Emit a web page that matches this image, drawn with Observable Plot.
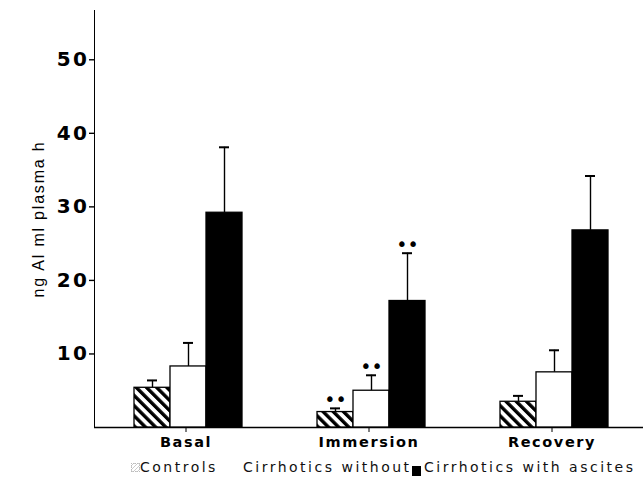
<!DOCTYPE html>
<html>
<head>
<meta charset="utf-8">
<script src="https://cdn.jsdelivr.net/npm/d3@7"></script>
<script src="https://cdn.jsdelivr.net/npm/@observablehq/plot@0.6"></script>
<style>
  html, body { margin: 0; padding: 0; background: #fff; }
  #chart svg { display: block; font-family: "DejaVu Sans", sans-serif; }
  #chart g[aria-label="y-axis tick label"] text { font-size: 20px; font-weight: bold; letter-spacing: 2.5px; fill: #000; }
  #chart g[aria-label="y-axis label"] text { font-size: 16px; font-weight: normal; letter-spacing: 1.8px; fill: #000; font-family: "Liberation Sans", sans-serif; }
  #chart g[aria-label="fx-axis tick label"] text { font-size: 14.5px; font-weight: bold; letter-spacing: 1.6px; fill: #000; }
  #chart g[aria-label="y-axis tick"] path, #chart g[aria-label="rule"] line { stroke-width: 1.4px; }
  #legend { position: relative; height: 24px; font-family: "DejaVu Sans", sans-serif; font-size: 14px; letter-spacing: 2.5px; color: #111; white-space: nowrap; }
  #legend span { position: absolute; top: 5px; line-height: 18px; }
  .sw { display: inline-block; }
</style>
</head>
<body>
<svg width="0" height="0" style="position:absolute">
  <defs>
    <pattern id="hatch" patternUnits="userSpaceOnUse" width="7.2" height="7.2" patternTransform="rotate(-45)">
      <rect x="0" y="0" width="7.2" height="7.2" fill="#fff"></rect>
      <rect x="0" y="0" width="3.4" height="7.2" fill="#000"></rect>
    </pattern>
  </defs>
</svg>
<div id="chart"></div>
<div id="legend"></div>
<script>
// ---- data ----
const groups = ["Basal", "Immersion", "Recovery"];
const series = ["Controls", "Cirrhotics without", "Cirrhotics with ascites"];
const controls = [5.4, 2.1, 3.5];
const controlsErr = [1.0, 0.5, 0.8];
const without = [8.3, 5.0, 7.5];
const withoutErr = [3.2, 2.1, 3.0];
const ascites = [29.2, 17.2, 26.8];
const ascitesErr = [8.9, 6.5, 7.4];
const significant = [[false, false, false], [true, true, true], [false, false, false]];
const yTicks = [10, 20, 30, 40, 50];
const yLabel = "ng Al ml plasma h";

const values = [controls, without, ascites];
const errors = [controlsErr, withoutErr, ascitesErr];
const rows = [];
groups.forEach((g, gi) => {
  series.forEach((s, si) => {
    rows.push({group: g, series: s, value: values[si][gi], upper: values[si][gi] + errors[si][gi], sig: significant[gi][si]});
  });
});

const chart = Plot.plot({
  width: 644,
  height: 453,
  marginTop: 10,
  marginBottom: 26,
  marginLeft: 93,
  marginRight: 0,
  fx: {domain: groups, padding: 0, label: null, tickSize: 5, tickPadding: 4},
  x: {domain: series, paddingInner: 0, paddingOuter: 1, align: 0.53, axis: null},
  y: {domain: [0, 56.7], ticks: yTicks, tickSize: 5, tickPadding: 0, label: yLabel, labelArrow: "none", labelAnchor: "center", labelOffset: 62, line: true},
  color: {domain: series, range: ["url(#hatch)", "#fff", "#000"]},
  marks: [
    Plot.ruleY([0], {strokeWidth: 1.5}),
    Plot.ruleX(rows, {fx: "group", x: "series", y1: "value", y2: "upper", stroke: "#000", strokeWidth: 1.4}),
    Plot.tickY(rows, {fx: "group", x: "series", y: "upper", stroke: "#000", strokeWidth: 2, insetLeft: 13, insetRight: 13}),
    Plot.barY(rows, {fx: "group", x: "series", y: "value", fill: "series", stroke: "#000", strokeWidth: 1.3}),
    Plot.text(rows.filter(d => d.sig), {fx: "group", x: "series", y: "upper", text: () => "••", dy: -8, fontSize: 19, fill: "#000"})
  ]
});
document.getElementById("chart").appendChild(chart);

// legend
const legend = document.getElementById("legend");
legend.innerHTML =
  '<span style="left:131px"><i class="sw" style="width:7px;height:7px;border:1px dotted #bbb;background:repeating-linear-gradient(-45deg,#ccc 0 1px,#fff 1px 3px)"></i></span>' +
  '<span style="left:140px">' + series[0] + '</span>' +
  '<span style="left:243px">' + series[1] + '</span>' +
  '<span style="left:412px;top:9px"><i class="sw" style="width:9px;height:10px;background:#000"></i></span>' +
  '<span style="left:424px">' + series[2] + '</span>';
</script>
</body>
</html>
